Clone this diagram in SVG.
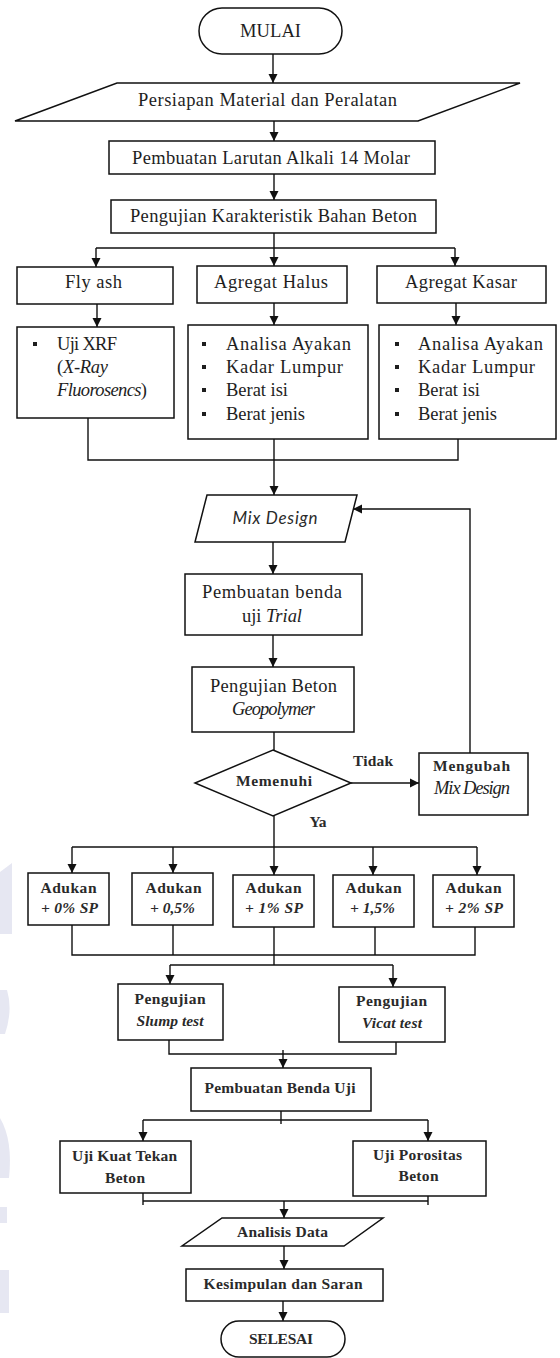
<svg xmlns="http://www.w3.org/2000/svg" width="560" height="1358" viewBox="0 0 560 1358">
<defs>
<marker id="ah" markerUnits="userSpaceOnUse" markerWidth="9" markerHeight="10" refX="9" refY="5" orient="auto">
<path d="M0,0.5 L9,5 L0,9.5 z" fill="#111"/>
</marker>
<style>
.s{fill:#fff;stroke:#111;stroke-width:1.5}
.c{fill:none;stroke:#111;stroke-width:1.4}
.a{fill:none;stroke:#111;stroke-width:1.4;marker-end:url(#ah)}
.t{font-family:"Liberation Serif","DejaVu Serif",serif;font-size:18.5px;fill:#1e1e1e;text-anchor:middle}
.l{font-family:"Liberation Serif","DejaVu Serif",serif;font-size:18.5px;fill:#1e1e1e}
.b{font-family:"Liberation Serif","DejaVu Serif",serif;font-size:15.5px;font-weight:bold;fill:#2a2a2a;text-anchor:middle}
.i{font-style:italic}
.m{font-family:Lato,"Open Sans","Liberation Sans",sans-serif;font-size:17px;font-style:italic;fill:#2a2a2a;text-anchor:middle}
.bu{fill:#1e1e1e}
.wm{fill:#e6e7f2}
</style>
</defs>
<rect width="560" height="1358" fill="#fff"/>
<g id="watermark">
<path class="wm" d="M0,872 L12,863 L12,934 L0,934 z"/>
<path class="wm" d="M0,990 L7,990 Q13,1010 5,1034 L0,1034 z"/>
<path class="wm" d="M0,1118 Q13,1140 9,1178 L0,1178 z"/>
<path class="wm" d="M0,1207 L7,1207 L7,1223 L0,1223 z"/>
<path class="wm" d="M0,1270 L9,1270 L9,1313 L0,1313 z"/>
</g>
<g id="connectors">
<path class="a" d="M273,54 V83"/>
<path class="a" d="M274,121 V141"/>
<path class="a" d="M274,174 V200"/>
<path class="a" d="M274,233 V266"/>
<path class="c" d="M96,248 H455"/>
<path class="a" d="M96,248 V267"/>
<path class="a" d="M455,248 V266"/>
<path class="a" d="M97,304 V327"/>
<path class="a" d="M274,303 V325"/>
<path class="a" d="M456,303 V325"/>
<path class="c" d="M88,418 V460 H458 V439"/>
<path class="c" d="M274,439 V460"/>
<path class="a" d="M274,460 V495"/>
<path class="a" d="M273,542 V574"/>
<path class="a" d="M273,635 V667"/>
<path class="c" d="M274,732 V750"/>
<path class="a" d="M351,783 H419"/>
<path class="a" d="M470,753 V509 H353"/>
<path class="c" d="M274,816 V847"/>
<path class="c" d="M72,847 H477"/>
<path class="a" d="M72,847 V873"/>
<path class="a" d="M173,847 V873"/>
<path class="a" d="M274,847 V875"/>
<path class="a" d="M373,847 V875"/>
<path class="a" d="M477,847 V875"/>
<path class="c" d="M72,925 V955 H475 V927"/>
<path class="c" d="M173,925 V955"/>
<path class="c" d="M375,927 V955"/>
<path class="c" d="M274,927 V965"/>
<path class="c" d="M170,965 H393"/>
<path class="a" d="M170,965 V984"/>
<path class="a" d="M393,965 V987"/>
<path class="c" d="M169,1040 V1054 H396 V1042"/>
<path class="a" d="M283,1050 V1068"/>
<path class="c" d="M281,1111 V1124"/>
<path class="c" d="M143,1120 H428"/>
<path class="a" d="M143,1120 V1141"/>
<path class="a" d="M428,1120 V1141"/>
<path class="c" d="M143,1193 V1205"/>
<path class="c" d="M428,1196 V1205"/>
<path class="c" d="M143,1201 H428"/>
<path class="a" d="M284,1201 V1218"/>
<path class="a" d="M284,1246 V1269"/>
<path class="a" d="M283,1301 V1321"/>
</g>
<g id="mulai">
<rect class="s" x="199" y="8" width="143" height="46" rx="23"/>
<text class="t" x="270.5" y="37" font-size="17.5" textLength="61">MULAI</text>
</g>
<g id="persiapan">
<path class="s" d="M117,83 H520 L418,121 H15 z"/>
<text class="t" x="267.5" y="106" textLength="259">Persiapan Material dan Peralatan</text>
</g>
<g id="larutan">
<rect class="s" x="109" y="141" width="326" height="33"/>
<text class="t" x="271" y="164" textLength="278">Pembuatan Larutan Alkali 14 Molar</text>
</g>
<g id="pengujian-bahan">
<rect class="s" x="111" y="200" width="325" height="33"/>
<text class="t" x="273.5" y="222" textLength="287">Pengujian Karakteristik Bahan Beton</text>
</g>
<g id="flyash">
<rect class="s" x="17" y="267" width="156" height="37"/>
<text class="t" x="93.5" y="288" textLength="57">Fly ash</text>
</g>
<g id="halus">
<rect class="s" x="197" y="266" width="150" height="37"/>
<text class="t" x="271" y="288" textLength="114">Agregat Halus</text>
</g>
<g id="kasar">
<rect class="s" x="377" y="266" width="169" height="37"/>
<text class="t" x="461" y="288" textLength="112">Agregat Kasar</text>
</g>
<g id="flyash-uji">
<rect class="s" x="17" y="327" width="157" height="91"/>
<rect class="bu" x="33" y="342" width="4" height="4"/>
<text class="l" x="57" y="350" textLength="60">Uji XRF</text>
<text class="l" x="57" y="373" textLength="51">(<tspan class="i">X-Ray</tspan></text>
<text class="l" x="57" y="396" textLength="90"><tspan class="i">Fluorosencs</tspan>)</text>
</g>
<g id="halus-uji">
<rect class="s" x="188" y="325" width="180" height="114"/>
<rect class="bu" x="202" y="342" width="4" height="4"/>
<rect class="bu" x="202" y="365" width="4" height="4"/>
<rect class="bu" x="202" y="388" width="4" height="4"/>
<rect class="bu" x="202" y="412" width="4" height="4"/>
<text class="l" x="226" y="350" textLength="125">Analisa Ayakan</text>
<text class="l" x="226" y="373" textLength="117">Kadar Lumpur</text>
<text class="l" x="226" y="396" textLength="62">Berat isi</text>
<text class="l" x="226" y="420" textLength="79">Berat jenis</text>
</g>
<g id="kasar-uji">
<rect class="s" x="379" y="325" width="177" height="114"/>
<rect class="bu" x="395" y="342" width="4" height="4"/>
<rect class="bu" x="395" y="365" width="4" height="4"/>
<rect class="bu" x="395" y="388" width="4" height="4"/>
<rect class="bu" x="395" y="412" width="4" height="4"/>
<text class="l" x="418" y="350" textLength="125">Analisa Ayakan</text>
<text class="l" x="418" y="373" textLength="117">Kadar Lumpur</text>
<text class="l" x="418" y="396" textLength="62">Berat isi</text>
<text class="l" x="418" y="420" textLength="79">Berat jenis</text>
</g>
<g id="mix-design">
<path class="s" d="M207,495 H357 L345,542 H195 z"/>
<text class="m" x="275" y="524" textLength="85">Mix Design</text>
</g>
<g id="trial">
<rect class="s" x="185" y="574" width="177" height="61"/>
<text class="t" x="272" y="598" textLength="140">Pembuatan benda</text>
<text class="t" x="272" y="622" textLength="60">uji <tspan class="i">Trial</tspan></text>
</g>
<g id="pengujian-beton">
<rect class="s" x="192" y="667" width="162" height="65"/>
<text class="t" x="273.5" y="692" textLength="127">Pengujian Beton</text>
<text class="t i" x="273.5" y="715" textLength="83">Geopolymer</text>
</g>
<g id="memenuhi">
<path class="s" d="M273,750 L351,783 L273,816 L195,783 z"/>
<text class="b" x="274" y="786" font-size="14.5" textLength="76">Memenuhi</text>
<text class="b" x="373" y="766" textLength="40">Tidak</text>
<text class="b" x="318" y="827" textLength="17">Ya</text>
</g>
<g id="mengubah">
<rect class="s" x="419" y="753" width="109" height="62"/>
<text class="b" x="471.5" y="771" font-weight="600" textLength="77">Mengubah</text>
<text class="t i" x="472" y="794" font-size="16" textLength="76">Mix Design</text>
</g>
<g id="adukan-0">
<rect class="s" x="28" y="873" width="81" height="52"/>
<text class="b" x="68.5" y="893" textLength="56">Adukan</text>
<text class="b i" x="69.5" y="913" font-size="14.5" textLength="57">+ 0% SP</text>
</g>
<g id="adukan-05">
<rect class="s" x="132" y="873" width="81" height="52"/>
<text class="b" x="173.5" y="893" textLength="56">Adukan</text>
<text class="b i" x="172.5" y="913" font-size="14.5" textLength="45">+ 0,5%</text>
</g>
<g id="adukan-1">
<rect class="s" x="233" y="875" width="81" height="52"/>
<text class="b" x="273.5" y="893" textLength="56">Adukan</text>
<text class="b i" x="274" y="913" font-size="14.5" textLength="58">+ 1% SP</text>
</g>
<g id="adukan-15">
<rect class="s" x="333" y="875" width="81" height="52"/>
<text class="b" x="373.5" y="893" textLength="56">Adukan</text>
<text class="b i" x="372.5" y="913" font-size="14.5" textLength="45">+ 1,5%</text>
</g>
<g id="adukan-2">
<rect class="s" x="433" y="875" width="81" height="52"/>
<text class="b" x="473.5" y="893" textLength="56">Adukan</text>
<text class="b i" x="474" y="913" font-size="14.5" textLength="58">+ 2% SP</text>
</g>
<g id="slump">
<rect class="s" x="118" y="984" width="105" height="56"/>
<text class="b" x="170" y="1004" textLength="71">Pengujian</text>
<text class="b i" x="170" y="1026" font-size="15" font-weight="normal" textLength="67">Slump test</text>
</g>
<g id="vicat">
<rect class="s" x="339" y="987" width="106" height="55"/>
<text class="b" x="391.5" y="1006" textLength="71">Pengujian</text>
<text class="b i" x="392" y="1028" font-size="15" font-weight="normal" textLength="60">Vicat test</text>
</g>
<g id="benda-uji">
<rect class="s" x="191" y="1068" width="180" height="43"/>
<text class="b" x="280" y="1093" textLength="151">Pembuatan Benda Uji</text>
</g>
<g id="kuat-tekan">
<rect class="s" x="60" y="1141" width="131" height="52"/>
<text class="b" x="124.5" y="1161" textLength="105">Uji Kuat Tekan</text>
<text class="b" x="125" y="1183" textLength="40">Beton</text>
</g>
<g id="porositas">
<rect class="s" x="353" y="1141" width="133" height="55"/>
<text class="b" x="417.5" y="1160" textLength="89">Uji Porositas</text>
<text class="b" x="418.5" y="1181" textLength="40">Beton</text>
</g>
<g id="analisis">
<path class="s" d="M222,1218 H383 L344,1246 H182 z"/>
<text class="b" x="282.5" y="1237" textLength="91">Analisis Data</text>
</g>
<g id="kesimpulan">
<rect class="s" x="186" y="1269" width="197" height="32"/>
<text class="b" x="283" y="1289" textLength="159">Kesimpulan dan Saran</text>
</g>
<g id="selesai">
<rect class="s" x="221" y="1321" width="124" height="36" rx="18"/>
<text class="b" x="281" y="1344" font-size="15" textLength="64">SELESAI</text>
</g>
</svg>
